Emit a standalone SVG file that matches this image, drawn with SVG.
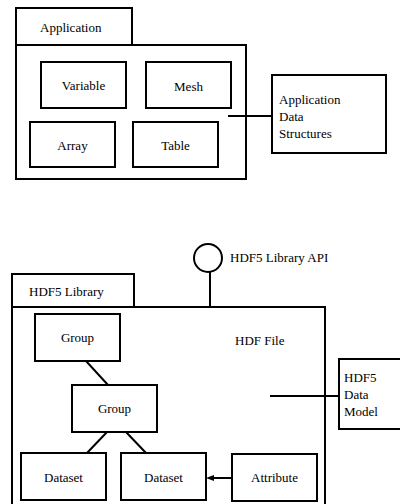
<svg xmlns="http://www.w3.org/2000/svg" width="400" height="504" viewBox="0 0 400 504">
<style>
.b{fill:#fff;stroke:#000;stroke-width:2}
.c{stroke:#000;stroke-width:2;fill:none}
</style>
<rect width="400" height="504" fill="#fff"/>
<g id="application">
<rect class="b" x="16" y="8" width="116" height="37"/>
<rect class="b" x="16" y="45" width="230" height="134"/>
<text x="40" y="32" font-family="Liberation Serif" font-size="13">Application</text>
</g>
<g id="variable"><rect class="b" x="41" y="62" width="85" height="46"/><text x="83.5" y="90" text-anchor="middle" font-family="Liberation Serif" font-size="13">Variable</text></g>
<g id="mesh"><rect class="b" x="146" y="62" width="85" height="46"/><text x="188.5" y="91" text-anchor="middle" font-family="Liberation Serif" font-size="13">Mesh</text></g>
<g id="array"><rect class="b" x="30" y="122" width="85" height="45"/><text x="72.5" y="150" text-anchor="middle" font-family="Liberation Serif" font-size="13">Array</text></g>
<g id="table"><rect class="b" x="133" y="122" width="85" height="45"/><text x="175.5" y="150" text-anchor="middle" font-family="Liberation Serif" font-size="13">Table</text></g>
<g id="app-data-structures">
<rect class="b" x="272" y="75" width="114" height="78"/>
<text x="279" y="104" font-family="Liberation Serif" font-size="13">Application</text>
<text x="279" y="121" font-family="Liberation Serif" font-size="13">Data</text>
<text x="279" y="138" font-family="Liberation Serif" font-size="13">Structures</text>
</g>
<g id="hdf5-library">
<rect class="b" x="12" y="274" width="122" height="33"/>
<rect class="b" x="12" y="307" width="313" height="205"/>
<text x="29" y="296" font-family="Liberation Serif" font-size="13">HDF5 Library</text>
<text x="235" y="345" font-family="Liberation Serif" font-size="13">HDF File</text>
</g>
<g id="api">
<circle class="b" cx="208" cy="258" r="14"/>
<text x="230" y="262" font-family="Liberation Serif" font-size="13">HDF5 Library API</text>
</g>
<g id="group1"><rect class="b" x="35" y="314" width="85" height="47"/><text x="77.5" y="342" text-anchor="middle" font-family="Liberation Serif" font-size="13">Group</text></g>
<g id="group2"><rect class="b" x="72" y="385" width="85" height="47"/><text x="114.5" y="413" text-anchor="middle" font-family="Liberation Serif" font-size="13">Group</text></g>
<g id="dataset1"><rect class="b" x="21" y="453" width="85" height="47"/><text x="63.5" y="482" text-anchor="middle" font-family="Liberation Serif" font-size="13">Dataset</text></g>
<g id="dataset2"><rect class="b" x="121" y="453" width="85" height="47"/><text x="163.5" y="482" text-anchor="middle" font-family="Liberation Serif" font-size="13">Dataset</text></g>
<g id="attribute"><rect class="b" x="232" y="454" width="85" height="47"/><text x="274.5" y="482" text-anchor="middle" font-family="Liberation Serif" font-size="13">Attribute</text></g>
<g id="hdf5-data-model">
<rect class="b" x="339" y="359" width="70" height="70"/>
<text x="344" y="382" font-family="Liberation Serif" font-size="13">HDF5</text>
<text x="344" y="399" font-family="Liberation Serif" font-size="13">Data</text>
<text x="344" y="416" font-family="Liberation Serif" font-size="13">Model</text>
</g>
<g id="connectors">
<line class="c" x1="228" y1="116" x2="272" y2="116"/>
<line class="c" x1="210" y1="272" x2="210" y2="307"/>
<line class="c" x1="86" y1="361" x2="108" y2="385"/>
<line class="c" x1="107" y1="432" x2="87" y2="453"/>
<line class="c" x1="126" y1="432" x2="146" y2="453"/>
<line class="c" x1="232" y1="478" x2="212" y2="478"/>
<polygon points="206,478 214,475 214,481" fill="#000"/>
<line class="c" x1="270" y1="396" x2="339" y2="396"/>
</g>
</svg>
